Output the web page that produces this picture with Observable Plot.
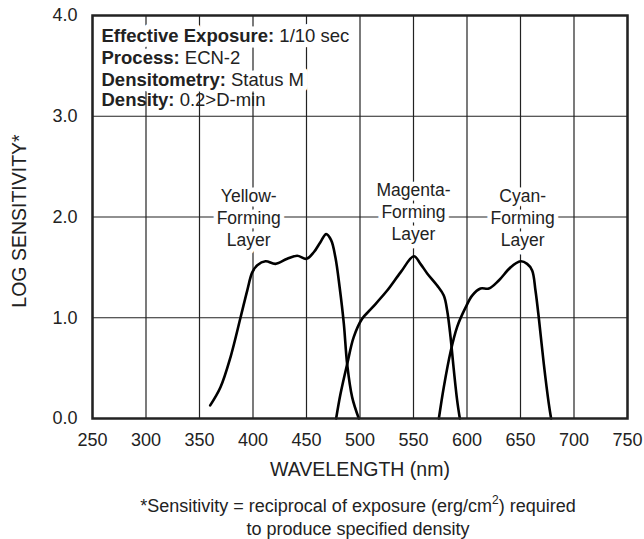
<!DOCTYPE html>
<html>
<head>
<meta charset="utf-8">
<script src="https://cdn.jsdelivr.net/npm/d3@7"></script>
<script src="https://cdn.jsdelivr.net/npm/@observablehq/plot@0.6"></script>
<style>
  html, body { margin: 0; padding: 0; background: #fff; }
  #wrap { width: 644px; font-family: "Liberation Sans", Arial, Helvetica, sans-serif; color: #222; }
  #caption { font-size: 18px; line-height: 23px; text-align: center; padding-left: 72px; margin-top: 15px; }
  #caption sup { font-size: 12px; line-height: 0; vertical-align: 8px; }
</style>
</head>
<body>
<div id="wrap"></div>
<script>
// ---- data ----
const yellowNm  = [360, 369.6, 379, 388.3, 394.6, 399.3, 404, 411.7, 421, 432, 441.3, 450, 456.8, 463, 468.4, 473, 477, 481, 484.9, 488, 492.7, 498.9];
const yellowLog = [0.13, 0.31, 0.61, 1.00, 1.27, 1.45, 1.52, 1.56, 1.535, 1.585, 1.615, 1.585, 1.65, 1.75, 1.83, 1.77, 1.60, 1.30, 0.94, 0.54, 0.21, 0.0];

const magentaNm  = [477.7, 481.8, 488, 494.2, 502, 511.4, 525.4, 537.9, 550.3, 556.5, 562.8, 572.1, 578.3, 581.5, 584.6, 587.7, 590.8, 593.3];
const magentaLog = [0.0, 0.245, 0.54, 0.81, 0.99, 1.10, 1.27, 1.45, 1.61, 1.535, 1.44, 1.32, 1.22, 1.07, 0.81, 0.48, 0.18, 0.0];

const cyanNm  = [573.7, 578.3, 584.6, 590.8, 598.6, 604.8, 612.6, 620.4, 629.7, 640.7, 650, 656.2, 660.9, 664, 667.1, 671.8, 676.4, 678.6];
const cyanLog = [0.0, 0.31, 0.66, 0.91, 1.10, 1.22, 1.29, 1.29, 1.37, 1.50, 1.56, 1.535, 1.47, 1.27, 1.00, 0.54, 0.15, 0.0];

const layerNames  = ["Yellow-\nForming\nLayer", "Magenta-\nForming\nLayer", "Cyan-\nForming\nLayer"];
const layerLabelX = [396, 550, 652];
const layerLabelY = [2.0, 2.06, 2.0];

const xTicks = [250, 300, 350, 400, 450, 500, 550, 600, 650, 700, 750];
const yTicks = [0, 1, 2, 3, 4];
const xTitle = "WAVELENGTH (nm)";
const yTitle = "LOG SENSITIVITY*";

const infoKeys   = ["Effective Exposure", "Process", "Densitometry", "Density"];
const infoValues = ["1/10 sec", "ECN-2", "Status M", "0.2>D-min"];

// ---- build tables ----
const curves = [
  ...yellowNm.map((x, i) => ({nm: x, v: yellowLog[i], layer: "yellow"})),
  ...magentaNm.map((x, i) => ({nm: x, v: magentaLog[i], layer: "magenta"})),
  ...cyanNm.map((x, i) => ({nm: x, v: cyanLog[i], layer: "cyan"}))
];
const labels = layerNames.map((t, i) => ({t, x: layerLabelX[i], y: layerLabelY[i]}));
const infoLines = infoKeys.map((k, i) => `${k}: ${infoValues[i]}`);

const ink = "#222";
const chart = Plot.plot({
  width: 644,
  height: 480,
  marginLeft: 92,
  marginRight: 17,
  marginTop: 15,
  marginBottom: 62,
  style: {fontFamily: "'Liberation Sans', Arial, Helvetica, sans-serif", fontSize: "18px", color: ink, background: "#fff"},
  x: {domain: [250, 750]},
  y: {domain: [0, 4]},
  marks: [
    Plot.gridX(xTicks, {stroke: ink, strokeOpacity: 1, strokeWidth: 1.2}),
    Plot.gridY(yTicks, {stroke: ink, strokeOpacity: 1, strokeWidth: 1.2}),
    Plot.line(curves, {x: "nm", y: "v", z: "layer", stroke: "#000", strokeWidth: 2.6, curve: "catmull-rom"}),
    // info block (first three lines on a white ground, last line over the grid)
    Plot.text([infoLines.slice(0, 3).join("\n")], {
      text: d => d, frameAnchor: "top-left", dx: 9, dy: 11, lineAnchor: "top",
      textAnchor: "start", lineHeight: 1.19, fontSize: 18.5, fill: ink, stroke: "#fff", strokeWidth: 11
    }),
    Plot.text([infoLines[3]], {
      text: d => d, frameAnchor: "top-left", dx: 9, dy: 77, lineAnchor: "top",
      textAnchor: "start", fontSize: 18.5, fill: ink
    }),
    // layer labels
    Plot.text(labels, {
      x: "x", y: "y", text: "t", lineAnchor: "middle", lineHeight: 1.257, fontSize: 17.5,
      fill: ink, stroke: "#fff", strokeWidth: 9
    }),
    Plot.axisX({ticks: xTicks, tickSize: 0, tickPadding: 15, label: null, fontSize: 18}),
    Plot.axisY({ticks: yTicks, tickSize: 0, tickPadding: 15, label: null, fontSize: 18, tickFormat: d => d.toFixed(1)}),
    Plot.text([xTitle], {text: d => d, frameAnchor: "bottom", dy: 51, lineAnchor: "middle", textAnchor: "middle", fontSize: 19.5, fill: ink}),
    Plot.text([yTitle], {text: d => d, frameAnchor: "left", dx: -73, dy: 4, rotate: -90, lineAnchor: "middle", textAnchor: "middle", fontSize: 19.5, fill: ink}),
    Plot.frame({stroke: ink, strokeWidth: 2.5})
  ]
});

// bold the keys of the info block
const ns = "http://www.w3.org/2000/svg";
chart.querySelectorAll("text, tspan").forEach(el => {
  if (el.children.length) return;
  const s = el.textContent;
  const k = infoKeys.find(key => s.startsWith(key + ":"));
  if (!k) return;
  el.textContent = "";
  const b = document.createElementNS(ns, "tspan");
  b.setAttribute("font-weight", "bold");
  b.textContent = k + ":";
  const r = document.createElementNS(ns, "tspan");
  r.textContent = s.slice(k.length + 1);
  el.append(b, r);
});

const wrap = document.getElementById("wrap");
wrap.appendChild(chart);
const cap = document.createElement("div");
cap.id = "caption";
cap.innerHTML = "*Sensitivity = reciprocal of exposure (erg/cm<sup>2</sup>) required<br>to produce specified density";
wrap.appendChild(cap);
</script>
</body>
</html>
